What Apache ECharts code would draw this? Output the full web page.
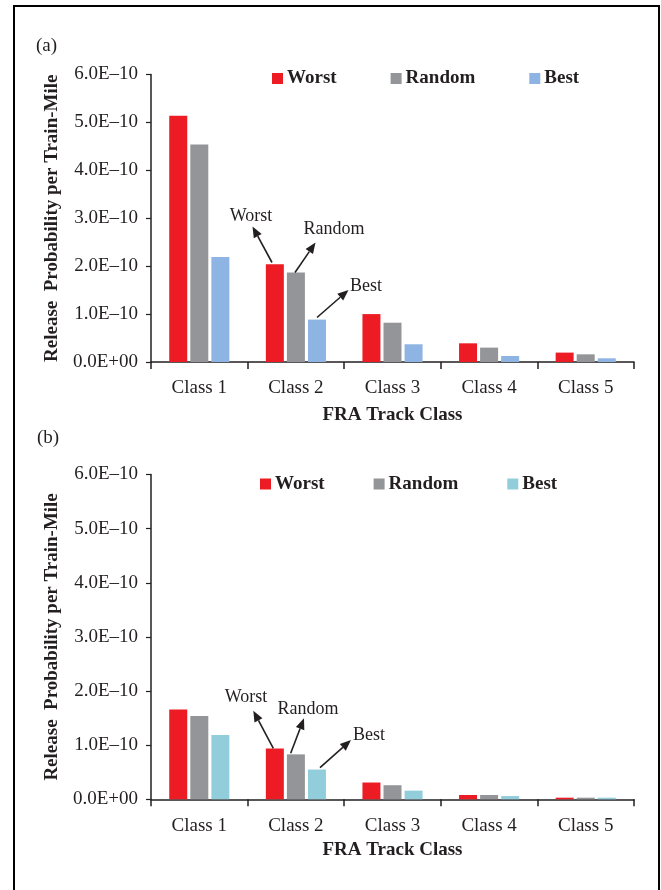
<!DOCTYPE html>
<html>
<head>
<meta charset="utf-8">
<script src="https://cdn.jsdelivr.net/npm/echarts@6/dist/echarts.min.js"></script>
<style>
html,body{margin:0;padding:0;background:#fff;}
#frame{position:absolute;left:13px;top:5px;width:647px;height:900px;border-left:2px solid #000;border-top:2px solid #000;border-right:2px solid #000;box-sizing:border-box;}
#ca{position:absolute;left:0;top:0;width:661px;height:430px;}
#cb{position:absolute;left:0;top:420px;width:661px;height:470px;}
</style>
</head>
<body>
<div id="frame"></div>
<div id="ca"></div>
<div id="cb"></div>
<script>
// ---- data ----
const categories = ['Class 1', 'Class 2', 'Class 3', 'Class 4', 'Class 5'];
const seriesNames = ['Worst', 'Random', 'Best'];
const worstA  = [5.14e-10, 2.04e-10, 1.00e-10, 0.39e-10, 0.196e-10];
const randomA = [4.54e-10, 1.87e-10, 0.82e-10, 0.30e-10, 0.16e-10];
const bestA   = [2.19e-10, 0.885e-10, 0.37e-10, 0.125e-10, 0.077e-10];
const worstB  = [1.66e-10, 0.94e-10, 0.31e-10, 0.08e-10, 0.03e-10];
const randomB = [1.54e-10, 0.83e-10, 0.26e-10, 0.08e-10, 0.03e-10];
const bestB   = [1.19e-10, 0.55e-10, 0.16e-10, 0.06e-10, 0.03e-10];
const yTicks = ['0.0E+00', '1.0E–10', '2.0E–10', '3.0E–10', '4.0E–10', '5.0E–10', '6.0E–10'];
const panelLabels = ['(a)', '(b)'];
const xTitle = 'FRA Track Class';
const yTitle = 'Release  Probability per Train-Mile';

const FONT = '"Liberation Serif", "Times New Roman", serif';
const TXT = '#231f20';

function arrow(x1, y1, x2, y2) {
  const ang = Math.atan2(y2 - y1, x2 - x1);
  const L = 11, W = 4.5;
  const bx = x2 - L * Math.cos(ang), by = y2 - L * Math.sin(ang);
  const px = -Math.sin(ang) * W, py = Math.cos(ang) * W;
  return [
    {type: 'line', shape: {x1: x1, y1: y1, x2: bx, y2: by}, style: {stroke: TXT, lineWidth: 1.6}, z: 100},
    {type: 'polygon', shape: {points: [[x2, y2], [bx + px, by + py], [bx - px, by - py]]}, style: {fill: TXT}, z: 100}
  ];
}
function note(text, cx, cy) {
  return {type: 'text', x: cx, y: cy, z: 100,
    style: {text: text, font: '18px ' + FONT, fill: TXT, align: 'center', verticalAlign: 'middle'}};
}

function makeOption(cfg) {
  const colors = ['#ed1c24', '#939598', cfg.bestColor];
  const data = [cfg.worst, cfg.random, cfg.best];
  return {
    animation: false,
    backgroundColor: 'transparent',
    textStyle: {fontFamily: FONT},
    legend: {
      top: cfg.legendTop, left: cfg.legendLeft,
      itemWidth: 11, itemHeight: 11, itemGap: cfg.itemGap,
      icon: 'rect',
      data: seriesNames,
      textStyle: {fontFamily: FONT, fontSize: 19, fontWeight: 'bold', color: TXT, padding: [0, 0, 0, -1]}
    },
    grid: {left: 151, right: 27, top: cfg.gridTop, height: cfg.gridHeight, containLabel: false, outerBoundsMode: 'none'},
    xAxis: {
      type: 'category', data: categories,
      axisLine: {lineStyle: {color: TXT, width: 1.5}},
      axisTick: {show: true, length: 7, lineStyle: {color: TXT, width: 1.5}},
      axisLabel: {fontFamily: FONT, fontSize: 19, color: TXT, margin: 17},
      name: xTitle, nameLocation: 'middle', nameGap: cfg.xNameGap,
      nameTextStyle: {fontFamily: FONT, fontSize: 19, fontWeight: 'bold', color: TXT}
    },
    yAxis: {
      type: 'value', min: 0, max: 6e-10, interval: 1e-10,
      splitLine: {show: false},
      axisLine: {show: true, lineStyle: {color: TXT, width: 1.5}},
      axisTick: {show: true, length: 5, lineStyle: {color: TXT, width: 1.2}},
      axisLabel: {fontFamily: FONT, fontSize: 19, color: TXT, margin: 13,
        formatter: function (v) { return yTicks[Math.round(v / 1e-10)]; }},
      name: yTitle, nameLocation: 'middle', nameGap: 80,
      nameTextStyle: {fontFamily: FONT, fontSize: 19, fontWeight: 'bold', color: TXT}
    },
    series: seriesNames.map(function (n, i) {
      return {name: n, type: 'bar', data: data[i], barWidth: 18, barGap: '17%',
        itemStyle: {color: colors[i]}};
    }),
    graphic: cfg.graphic
  };
}

const chartA = echarts.init(document.getElementById('ca'));
chartA.setOption(makeOption({
  worst: worstA, random: randomA, best: bestA, bestColor: '#8db4e2',
  legendTop: 64, legendLeft: 267, itemGap: 54,
  gridTop: 74.5, gridHeight: 287.5, xNameGap: 44,
  graphic: [
    {type: 'text', x: 36, y: 46, style: {text: panelLabels[0], font: '19px ' + FONT, fill: TXT, verticalAlign: 'middle'}},
    note('Worst', 251, 216),
    note('Random', 334, 229.5),
    note('Best', 366, 286.5)
  ].concat(arrow(272, 262.5, 252.5, 226.5), arrow(295, 272.5, 315.5, 242.5), arrow(317, 317.5, 348.5, 290))
}));

// panel (b) div starts at page y = 420
const chartB = echarts.init(document.getElementById('cb'));
chartB.setOption(makeOption({
  worst: worstB, random: randomB, best: bestB, bestColor: '#92cddc',
  legendTop: 49.5, legendLeft: 255, itemGap: 49,
  gridTop: 54.5, gridHeight: 324.8, xNameGap: 41,
  graphic: [
    {type: 'text', x: 37, y: 18, style: {text: panelLabels[1], font: '19px ' + FONT, fill: TXT, verticalAlign: 'middle'}},
    note('Worst', 246, 277.3),
    note('Random', 308, 289),
    note('Best', 369, 315.7)
  ].concat(arrow(273.3, 328.3, 253.3, 290.7), arrow(290.7, 333.3, 304, 298.3), arrow(320, 347.7, 351, 320))
}));
</script>
</body>
</html>
